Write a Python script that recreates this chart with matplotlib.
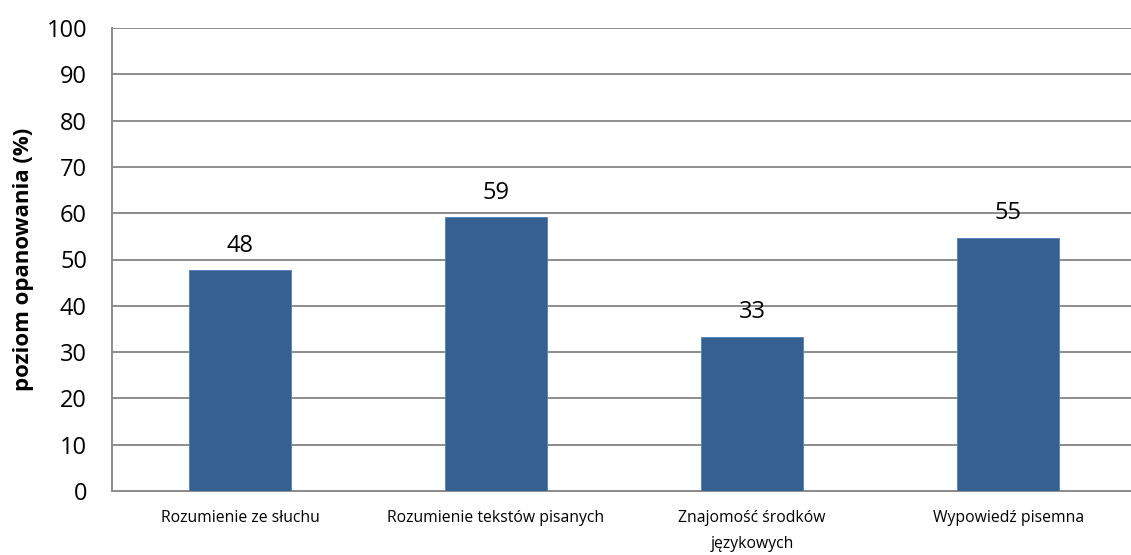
import matplotlib.pyplot as plt
import numpy as np

# poziom opanowania w poszczególnych obszarach
categories = ["Rozumienie ze słuchu", "Rozumienie tekstów pisanych",
              "Znajomość środków\njęzykowych", "Wypowiedź pisemna"]
values = [47.7, 59.1, 33.3, 54.7]
yticks = list(range(0, 101, 10))

plt.rcParams['font.family'] = ['Open Sans', 'DejaVu Sans']

fig = plt.figure(figsize=(11.31, 5.55), dpi=100)
ax = fig.add_axes([112 / 1131, 64 / 555, 1 - 112 / 1131, 463 / 555])

x = np.arange(len(categories))
bars = ax.bar(x, values, width=0.40, color='#376092',
              edgecolor='#4f81bd', linewidth=0.6, zorder=3)

# etykiety wartości nad słupkami
for b, v in zip(bars, values):
    ax.annotate("{:.0f}".format(v), (b.get_x() + b.get_width() / 2, v),
                xytext=(0, 9), textcoords='offset points',
                ha='center', va='bottom', fontsize=17)

ax.set_xlim(-0.5, 3.48)
ax.set_ylim(0, 100)
ax.set_yticks(yticks)
ax.set_xticks(x)
ax.set_xticklabels(categories, fontsize=11.3, linespacing=1.8)
ax.tick_params(axis='y', length=0, labelsize=17, pad=18)
ax.tick_params(axis='x', length=0, pad=14)

ax.yaxis.grid(True, color='#8c8c8c', linewidth=1.4, zorder=0)
ax.set_axisbelow(True)
for side in ['top', 'right']:
    ax.spines[side].set_visible(False)
for side in ['left', 'bottom']:
    ax.spines[side].set_color('#8c8c8c')
    ax.spines[side].set_linewidth(1.4)

ax.set_ylabel("poziom opanowania (%)", fontsize=16, fontweight='bold')
ax.yaxis.set_label_coords(-0.077, 0.5)

fig.savefig("out.png", dpi=100)
